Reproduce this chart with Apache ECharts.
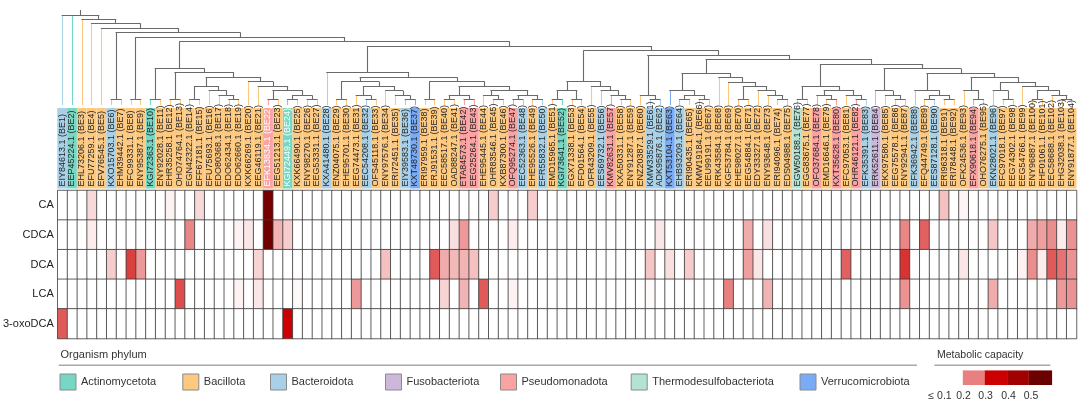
<!DOCTYPE html>
<html><head><meta charset="utf-8">
<script src="https://cdn.jsdelivr.net/npm/echarts@6/dist/echarts.min.js"></script>
<style>html,body{margin:0;padding:0;background:#fff}#c{width:1080px;height:407px}</style>
</head><body><div id="c"></div>
<script>
// ---------------- DATA ----------------
const proteinIds = ['EIY84613.1','EEP45224.1','EHL73206.1','EFU77259.1','EFV76545.1','KXO15703.1','EHM39442.1','EFC99331.1','ENY95387.1','KGI72363.1',
'ENY92028.1','EHR35258.1','OHO74764.1','EGN42322.1','EFF67181.1','EFU75693.1','EDO80368.1','EDO62434.1','EDO62660.1','KXK66269.1',
'EEG46119.1','EFK13834.1','EEG51213.1','KGI72449.1','KXK66490.1','ENY98270.1','EEG53331.1','KXA41480.1','ENZ04075.1','EHE95701.1',
'EEG74473.1','EEC54208.1','OFS45118.1','ENY97576.1','ERI72451.1','EIY39583.1','KXT48730.1','ERI97959.1','ERJ91531.1','EEC58517.1',
'OAD88247.1','ETA84573.1','EEG25264.1','EHE95445.1','OHR83546.1','KXB87300.1','OFQ95274.1','EEC52363.1','EHE95526.1','EFR55832.1',
'EMD15965.1','KGI73641.1','EGX71338.1','EFD01564.1','OFR43209.1','EES69732.1','KMV82631.1','KXA50331.1','ENY91287.1','ENZ20387.1',
'KMW33529.1','ADK95876.1','KXT53104.1','EHB93209.1','ERI90435.1','KMW19184.1','EEU99191.1','ERK43584.1','KGF53784.1','EHE98027.1',
'EEG54884.1','EDY33327.1','ENY93648.1','ERI94096.1','EDS04988.1','EGW50188.1','EGG83675.1','OFO37684.1','EMD16646.1','KXT35628.1',
'EFC97053.1','OHR46121.1','EFK35391.1','ERK52611.1','EKX97580.1','EEG75578.1','ENY92941.1','EFK36942.1','EFQ44749.1','EES87128.1',
'ERI96318.1','ERI78448.1','OFK24536.1','EFX90618.1','OHO76275.1','EKN28021.1','EFC97018.1','EEG74302.1','EEG54766.1','ENY96887.1',
'EHF01061.1','EEC58688.1','EHG32038.1','ENY91877.1'];
// phylum code per enzyme BE1..BE104
const phylumCodes = ['Bt','Ac','Ba','Ba','Ba','Bt','Ba','Ba','Ba','Ac',
'Ba','Ba','Ba','Ba','Ba','Ba','Ba','Ba','Ba','Ba',
'Ba','Ps','Ba','Ac','Ba','Ba','Ba','Bt','Ba','Ba',
'Ba','Bt','Ba','Ba','Ba','Bt','Ve','Ba','Ba','Ba',
'Ba','Ps','Ps','Ba','Ba','Ba','Ps','Bt','Ba','Bt',
'Ba','Ac','Ba','Ba','Ba','Bt','Ps','Ba','Ba','Ba',
'Bt','Bt','Ve','Bt','Ba','Ba','Ba','Ba','Ba','Ba',
'Ba','Ba','Ba','Ba','Ba','Th','Ba','Ps','Ba','Ps',
'Ba','Ps','Bt','Fu','Ba','Ba','Ba','Bt','Ba','Bt',
'Ba','Ba','Ba','Ps','Ba','Bt','Ba','Ba','Ba','Ba',
'Ba','Ba','Ba','Ba'];
const phylumNames = {Ac:'Actinomycetota',Ba:'Bacillota',Bt:'Bacteroidota',Fu:'Fusobacteriota',Ps:'Pseudomonadota',Th:'Thermodesulfobacteriota',Ve:'Verrucomicrobiota'};
const phylumOrder = ['Ac','Ba','Bt','Fu','Ps','Th','Ve'];
const phylumColors = {Ac:'#76d7c4',Ba:'#fdc880',Bt:'#a8d0e6',Fu:'#cdb8dc',Ps:'#fba3a3',Th:'#b2e3d5',Ve:'#7aabf6'};
const starred = [22, 24];
const bileAcids = ['CA','CDCA','DCA','LCA','3-oxoDCA'];
// non-zero metabolic capacity: [BE number, value]
const caValues = [[4,0.03],[12,0.01],[15,0.03],[22,0.38],[45,0.04],[49,0.04],[91,0.05],[93,0.008]];
const cdcaValues = [[4,0.015],[14,0.095],[19,0.01],[20,0.02],[22,0.39],[23,0.06],[24,0.04],[41,0.025],[42,0.08],[47,0.015],[62,0.02],[71,0.065],[73,0.025],[87,0.095],[89,0.125],[96,0.045],[100,0.065],[101,0.075],[102,0.09],[103,0.015],[104,0.085]];
const dcaValues = [[6,0.04],[8,0.15],[9,0.08],[21,0.035],[34,0.05],[39,0.13],[40,0.065],[41,0.055],[42,0.06],[43,0.05],[61,0.045],[63,0.025],[65,0.04],[71,0.075],[72,0.02],[81,0.125],[87,0.16],[93,0.02],[99,0.01],[100,0.09],[101,0.015],[102,0.13],[103,0.11],[104,0.085]];
const lcaValues = [[13,0.14],[19,0.01],[21,0.02],[25,0.005],[31,0.08],[40,0.035],[42,0.06],[44,0.13],[47,0.01],[61,0.004],[69,0.1],[73,0.06],[87,0.085],[96,0.065],[103,0.08],[104,0.085]];
const oxodcaValues = [[1,0.13],[24,0.2]];
const capacityColors = ['#e88080','#cc0000','#a00000','#6b0000'];
const capacityTicks = ['\u2264 0.1','0.2','0.3','0.4','0.5'];
// dendrogram: [height, child, child...]; leaves are BE numbers
const treeI = [36.7,[5.7,10,11],[32.7,[5.7,12,13],[27.7,
  [19,[5.7,14,15],[14.3,16,[9.3,17,[5.7,18,19]]]],
  [23.3,20,[19,21,[14.3,[5.7,22,23],[9.3,[5.7,24,25],[5.7,26,27]]]]]]]];
const treeK = [32.7,28,[27.7,
  [23.3,[5.7,29,30],[19,[9.3,31,[5.7,32,33]],[14.3,34,[9.3,35,[5.7,36,37]]]]],
  [23.3,[5.7,38,39],[19,[10,[5.7,40,41],[5.7,42,43]],[14.3,[10,44,[5.7,45,46]],[10,[5.7,47,48],[5.7,49,50]]]]]]];
const treeL = [54.3,
  [23.3,[14.3,[5.7,51,52],[5.7,53,54]],[19,55,[14.3,56,[10,57,[5.7,58,59]]]]],
  [50,[10,60,[5.7,61,62]],
    [45.7,
      [32,[14.3,63,[10,[5.7,64,65],[5.7,66,67]]],[27.7,68,[23,69,[19,[5.7,70,71],[14.3,72,[10,73,[5.7,74,75]]]]]]],
      [41,[19,[5.7,76,77],[14.3,[10,78,[5.7,79,80]],[10,81,[5.7,82,83]]]],
        [36.3,[14.3,84,[10,85,[5.7,86,87]]],
          [32,[14.3,88,[10,[5.7,89,90],[5.7,91,92]]],
            [27.7,[14.3,93,[5.7,94,95]],
              [23,[14.3,96,[5.7,97,98]],[19,99,[14.3,[5.7,100,101],[10,102,[5.7,103,104]]]]]]]]]]]];
const dendrogram = [90,1,2,[85.7,3,[81.7,4,[76.7,5,[72.3,[5.7,6,7],[67.7,[5.7,8,9],[63.3,treeI,[59,treeK,treeL]]]]]]]];

// ---------------- BUILD ----------------
const FONT = 'Arial, "Liberation Sans", Helvetica, sans-serif';
const labels = proteinIds.map((id,i)=>id+' (BE'+(i+1)+')'+(starred.includes(i+1)?'*':''));
const DARK = '#6a6a6a';
function layout(n){
  if (typeof n === 'number') return {x:n-1,h:0,leaf:n};
  const kids = n.slice(1).map(layout);
  return {x:(kids[0].x+kids[kids.length-1].x)/2,h:n[0],kids};
}
const lineData = [];
function collect(n){
  if (!n.kids) return;
  n.kids.forEach(k=>{
    lineData.push({coords:[[k.x,n.h],[k.x,k.h]],lineStyle:{color:k.leaf?phylumColors[phylumCodes[k.leaf-1]]:DARK,width:1.1}});
    collect(k);
  });
  lineData.push({coords:[[n.kids[0].x,n.h],[n.kids[n.kids.length-1].x,n.h]],lineStyle:{color:DARK,width:1.1,cap:'square'}});
}
const root = layout(dendrogram);
collect(root);
lineData.push({coords:[[root.x,root.h],[root.x,95]],lineStyle:{color:DARK,width:1.1}});

const rowsData = [caValues,cdcaValues,dcaValues,lcaValues,oxodcaValues];
const heat = [];
rowsData.forEach((row,r)=>{
  const m = {}; row.forEach(([be,v])=>m[be]=v);
  for (let c=0;c<proteinIds.length;c++) heat.push([c,r,m[c+1]||0]);
});

const barSeries = phylumOrder.map(code=>({
  name: phylumNames[code], type:'bar', xAxisIndex:1, yAxisIndex:1, stack:'ph',
  barCategoryGap:'0%', itemStyle:{color:phylumColors[code]},
  emphasis:{disabled:true},
  data: phylumCodes.map((p,i)=>p===code?{value:1,label:{color:starred.includes(i+1)?'#ffffff':'#262626'}}:'-'),
  label:{show:true,position:'insideBottom',rotate:90,align:'left',verticalAlign:'middle',distance:2,
    fontSize:9,fontFamily:FONT,color:'#262626',formatter:p=>p.name}
}));

const legX = [59.5,182.3,270,385,500,630.7,799.5];
const legends = phylumOrder.map((code,i)=>({
  data:[phylumNames[code]], left:legX[i], top:373.5, itemWidth:16, itemHeight:16, icon:'rect',
  selectedMode:false, padding:0, itemStyle:{borderColor:'#8a8a8a',borderWidth:1},
  textStyle:{fontSize:11,fontFamily:FONT,color:'#333'}
}));

const capX = [962.8,984.6,1007.1,1028.9,1052.1];
const tickX = [940,963.5,985.6,1008.5,1031];
const graphics = [
  {type:'text',left:60.5,top:349.5,style:{text:'Organism phylum',fontSize:11,fontFamily:FONT,fill:'#333'}},
  {type:'line',shape:{x1:58.8,y1:365.3,x2:917,y2:365.3},style:{stroke:'#a8a8a8',lineWidth:1.5}},
  {type:'text',left:937,top:349.5,style:{text:'Metabolic capacity',fontSize:10.5,fontFamily:FONT,fill:'#333'}},
  {type:'line',shape:{x1:934.4,y1:365.3,x2:1050.4,y2:365.3},style:{stroke:'#a8a8a8',lineWidth:1.5}}
];
capacityColors.forEach((c,i)=>graphics.push({type:'rect',shape:{x:capX[i],y:370.4,width:capX[i+1]-capX[i],height:14.6},style:{fill:c}}));
capacityTicks.forEach((t,i)=>graphics.push({type:'text',x:tickX[i],y:396,style:{text:t,fontSize:10.5,fontFamily:FONT,fill:'#333',align:'center',verticalAlign:'middle'}}));

const chart = echarts.init(document.getElementById('c'),null,{renderer:'canvas'});
chart.setOption({
  animation:false,
  backgroundColor:'#fff',
  grid:[
    {left:57.3,right:3.5,top:10,height:95},
    {left:57.3,right:3.5,top:108,height:80.5},
    {left:57.3,right:3.5,top:190.5,height:148}
  ],
  xAxis:[
    {type:'value',gridIndex:0,min:-0.5,max:103.5,show:false},
    {type:'category',gridIndex:1,data:labels,show:false},
    {type:'category',gridIndex:2,data:labels,show:false}
  ],
  yAxis:[
    {type:'value',gridIndex:0,min:0,max:95,show:false},
    {type:'value',gridIndex:1,min:0,max:1,show:false},
    {type:'category',gridIndex:2,data:bileAcids,inverse:true,axisLine:{show:false},axisTick:{show:false},
     axisLabel:{fontSize:11,fontFamily:FONT,color:'#222',margin:4}}
  ],
  visualMap:{show:false,seriesIndex:8,min:0,max:0.5,inRange:{color:['#ffffff','#e88080','#cc0000','#a00000','#6b0000','#500000']}},
  legend:legends,
  graphic:graphics,
  series:[
    {type:'lines',coordinateSystem:'cartesian2d',xAxisIndex:0,yAxisIndex:0,data:lineData,silent:true,
     lineStyle:{opacity:1,width:1.1}},
    ...barSeries,
    {type:'heatmap',xAxisIndex:2,yAxisIndex:2,data:heat,itemStyle:{borderColor:'#3a3a3a',borderWidth:0.8},emphasis:{disabled:true}}
  ]
});
</script></body></html>
